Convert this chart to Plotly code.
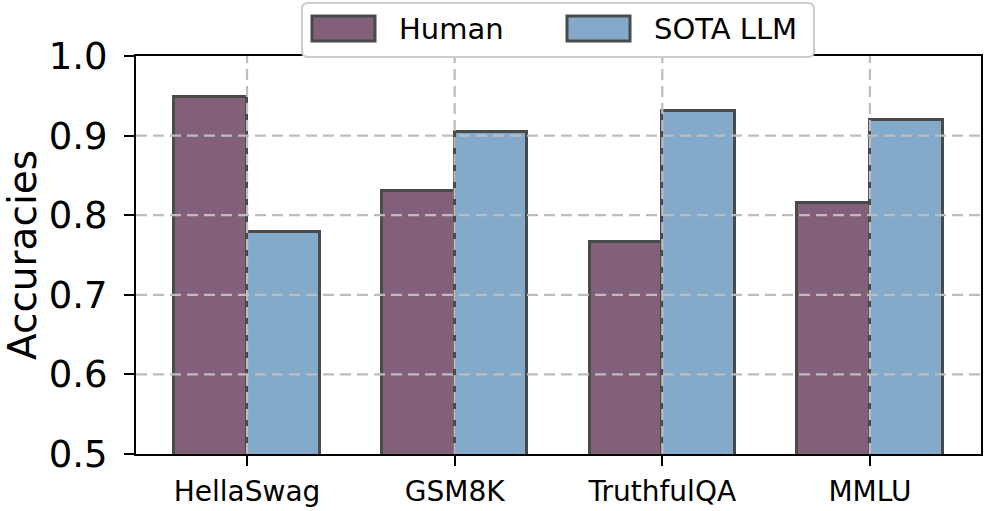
import plotly.graph_objects as go

categories = ["HellaSwag", "GSM8K", "TruthfulQA", "MMLU"]
human = [0.948, 0.831, 0.766, 0.815]
sota_llm = [0.779, 0.905, 0.931, 0.920]
series_names = ["Human", "SOTA LLM"]
y_ticks = [0.5, 0.6, 0.7, 0.8, 0.9, 1.0]

c_human = "#836079"
c_sota = "#84aacb"
edge = "#4a4a4a"
bar_w = 0.35

W, H = 997, 511
PL, PR, PT, PB = 136, 981, 56, 454   # plot area in page pixels
L, T = PL, PT
R = W - PR
B = H - PB
pw, ph = PR - PL, PB - PT

def px(x):
    return (x - PL) / pw

def py(y):
    return (PB - y) / ph

xs = list(range(len(categories)))

fig = go.Figure()
fig.add_trace(go.Bar(x=xs, y=human, name=series_names[0], width=bar_w, offset=-bar_w,
                     marker=dict(color=c_human, line=dict(color=edge, width=3)),
                     base=0, showlegend=False))
fig.add_trace(go.Bar(x=xs, y=sota_llm, name=series_names[1], width=bar_w, offset=0,
                     marker=dict(color=c_sota, line=dict(color=edge, width=3)),
                     base=0, showlegend=False))

grid = dict(color="#bdbdbd", width=2.2, dash="11px,6px")
shapes = []
for v in y_ticks[1:-1]:
    shapes.append(dict(type="line", xref="paper", yref="y", x0=0, x1=1, y0=v, y1=v,
                       line=grid, layer="above"))
for i in xs:
    shapes.append(dict(type="line", xref="x", yref="paper", x0=i, x1=i, y0=0, y1=1,
                       line=grid, layer="above"))

# legend box with rounded corners
bx0, bx1, by0, by1 = px(302), px(814), py(57), py(3)
rx, ry = 6 / pw, 6 / ph
path = (f"M {bx0+rx},{by1} L {bx1-rx},{by1} Q {bx1},{by1} {bx1},{by1-ry} "
        f"L {bx1},{by0+ry} Q {bx1},{by0} {bx1-rx},{by0} "
        f"L {bx0+rx},{by0} Q {bx0},{by0} {bx0},{by0+ry} "
        f"L {bx0},{by1-ry} Q {bx0},{by1} {bx0+rx},{by1} Z")
shapes.append(dict(type="path", xref="paper", yref="paper", path=path,
                   fillcolor="white", line=dict(color="#cccccc", width=2), layer="above"))
shapes.append(dict(type="rect", xref="paper", yref="paper",
                   x0=px(312), x1=px(375), y0=py(41), y1=py(16),
                   fillcolor=c_human, line=dict(color=edge, width=3), layer="above"))
shapes.append(dict(type="rect", xref="paper", yref="paper",
                   x0=px(567), x1=px(630), y0=py(41), y1=py(16),
                   fillcolor=c_sota, line=dict(color=edge, width=3), layer="above"))

annotations = [
    dict(text=series_names[0], xref="paper", yref="paper", x=px(397), y=py(29),
         xanchor="left", yanchor="middle", showarrow=False,
         font=dict(size=29, color="black", family="DejaVu Sans")),
    dict(text=series_names[1], xref="paper", yref="paper", x=px(652), y=py(29),
         xanchor="left", yanchor="middle", showarrow=False,
         font=dict(size=29, color="black", family="DejaVu Sans")),
]

fig.update_layout(
    width=W, height=H,
    margin=dict(l=L, r=R, t=T, b=B, pad=0),
    paper_bgcolor="white", plot_bgcolor="white",
    font=dict(family="DejaVu Sans", color="black"),
    shapes=shapes, annotations=annotations,
    bargap=0,
    xaxis=dict(range=[-0.535, 3.535], tickvals=xs, ticktext=categories,
               showgrid=False, zeroline=False, automargin=False,
               showline=True, linecolor="black", linewidth=2, mirror=True,
               ticks="outside", ticklen=10, tickwidth=2, tickcolor="black",
               tickfont=dict(size=28, family="DejaVu Sans", color="black"),
               ticklabelstandoff=1),
    yaxis=dict(range=[0.5, 1.0], tickvals=y_ticks, ticktext=[f"{v:.1f}" for v in y_ticks],
               showgrid=False, zeroline=False, automargin=False,
               showline=True, linecolor="black", linewidth=2, mirror=True,
               ticks="outside", ticklen=10, tickwidth=2, tickcolor="black",
               tickfont=dict(size=37, family="DejaVu Sans", color="black"),
               ticklabelstandoff=9,
               title=dict(text="Accuracies", font=dict(size=39, family="DejaVu Sans", color="black"),
                          standoff=40)),
)

fig.write_html("out.html", config={"displayModeBar": False},
               post_script="document.body.style.margin='0px';")
